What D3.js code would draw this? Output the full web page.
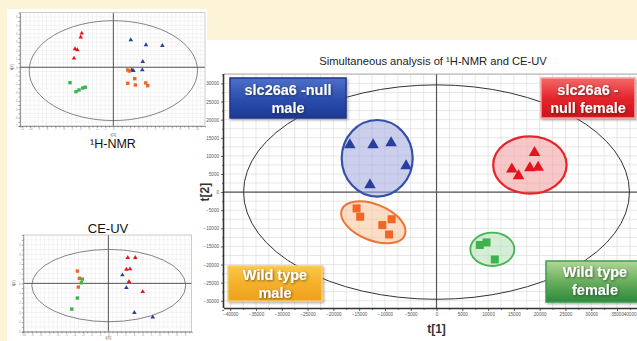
<!DOCTYPE html>
<html><head><meta charset="utf-8">
<script src="https://cdn.jsdelivr.net/npm/d3@7"></script>
<style>
html,body{margin:0;padding:0;background:#fdf3d6;}
svg{display:block;font-family:"Liberation Sans",Arial,sans-serif;}
</style>
</head><body>
<svg id="c" width="637" height="341"></svg>
<script>
// ---- Combined 1H-NMR + CE-UV score plot (t[1], t[2]) ----
const mainXTicks = d3.range(-40000, 40001, 5000);
const mainYTicks = d3.range(-30000, 30001, 5000);
const koMale   = [[-16800,13000],[-12300,13000],[-8800,13600],[-5900,7200],[-12900,2000]];
const koFemale = [[19000,10900],[14600,6300],[15900,4500],[18100,6700],[19700,6800]];
const wtMale   = [[-15500,-4500],[-14800,-6800],[-8700,-7500],[-10500,-9100],[-9200,-11700]];
const wtFemale = [[8400,-14600],[9700,-13900],[11300,-18600]];
// Hotelling T2 ellipse: cx, cy, rx, ry
const mainT2 = [0, 0, 37400, 29600];
// group rings: cx, cy, rx, ry, tilt (deg)
const ringKoMale   = [-11500, 9330, 6880, 10570, 0];
const ringKoFemale = [18100, 7480, 7120, 7920, 0];
const ringWtMale   = [-12250, -8340, 6590, 4970, 22];
const ringWtFemale = [10820, -15790, 4270, 4610, 0];
const groupNames = [["slc26a6 -null","male"],["slc26a6 -","null female"],["Wild type","male"],["Wild type","female"]];

// ---- 1H-NMR score plot ----
const nmrKoMale   = [[2.09,3.25],[3.92,2.66],[5.88,2.57],[3.53,0.67],[2.21,-0.32],[2.40,-0.41],[3.48,-0.32]];
const nmrKoFemale = [[-3.79,4.05],[-3.91,3.58],[-4.60,2.18],[-4.32,2.06],[-4.72,1.07]];
const nmrWtMale   = [[1.73,-0.32],[1.92,-0.44],[2.57,-1.36],[1.73,-1.91],[2.64,-2.11],[3.89,-1.87],[4.13,-2.19]];
const nmrWtFemale = [[-5.20,-1.84],[-4.48,-2.91],[-4.12,-2.71],[-3.67,-2.47],[-3.36,-2.38]];
const nmrT2 = [0, -0.4, 10.1, 5.95];

// ---- CE-UV score plot ----
const ceKoMale   = [[1.65,0.86],[2.12,-0.46],[3.06,-3.04],[5.22,-3.49]];
const ceKoFemale = [[2.28,2.65],[3.17,2.65],[2.12,1.45],[2.55,1.48],[2.43,0.17],[4.04,-0.87]];
const ceWtMale   = [[-3.64,1.27],[-3.41,0.52],[-3.53,-0.38]];
const ceWtFemale = [[-3.06,0.44],[-3.17,0.06],[-3.64,-1.52],[-4.30,-2.66]];
const ceT2 = [0.05, -0.23, 9.05, 3.74];

const COL = {blue:"#2a3f9d", red:"#e3141e", orange:"#f26522", green:"#3cb44b"};

const svg = d3.select("#c");
const defs = svg.append("defs");

function vgrad(id, stops){
  const g = defs.append("linearGradient").attr("id", id).attr("x1",0).attr("y1",0).attr("x2",0).attr("y2",1);
  stops.forEach(([o,c]) => g.append("stop").attr("offset", o).attr("stop-color", c));
}
vgrad("gBlue",  [[0,"#4d70c8"],[0.5,"#2d50b0"],[1,"#1d3994"]]);
vgrad("gRed",   [[0,"#f26a6a"],[0.5,"#e4262c"],[1,"#d0121a"]]);
vgrad("gOrange",[[0,"#f9c846"],[0.5,"#f4b02c"],[1,"#eea01e"]]);
vgrad("gGreen", [[0,"#b2d696"],[0.5,"#6aae5e"],[1,"#2c8a3c"]]);

const sh = defs.append("filter").attr("id","txtShadow").attr("x","-20%").attr("y","-20%").attr("width","140%").attr("height","140%");
sh.append("feDropShadow").attr("dx",1).attr("dy",1).attr("stdDeviation",0.8).attr("flood-color","#222").attr("flood-opacity",0.6);
const bsh = defs.append("filter").attr("id","boxShadow").attr("x","-10%").attr("y","-10%").attr("width","130%").attr("height","140%");
bsh.append("feDropShadow").attr("dx",1.5).attr("dy",1.5).attr("stdDeviation",1).attr("flood-color","#555").attr("flood-opacity",0.45);

// white panels
svg.append("rect").attr("x",7).attr("y",9).attr("width",200).attr("height",332).attr("fill","#fff");
svg.append("rect").attr("x",205).attr("y",40).attr("width",432).attr("height",301).attr("fill","#fff");

// ================= main plot =================
const x = d3.scaleLinear().domain([-41200, 41000]).range([224, 648]);
const y = d3.scaleLinear().domain([-32000, 32600]).range([308, 74]);
const [px0, px1] = [224, 637], [py0, py1] = [74, 308];

defs.append("clipPath").attr("id","mainClip").append("rect")
  .attr("x",px0).attr("y",py0).attr("width",px1-px0).attr("height",py1-py0);

const plot = svg.append("g").attr("clip-path","url(#mainClip)");
// grid
plot.append("g").selectAll("line").data(d3.range(-40000, 42500, 2500)).join("line")
  .attr("x1", d => x(d)).attr("x2", d => x(d)).attr("y1", py0).attr("y2", py1)
  .attr("stroke","#dcdcdc").attr("stroke-width",0.7);
plot.append("g").selectAll("line").data(d3.range(-32500, 32600, 2500)).join("line")
  .attr("y1", d => y(d)).attr("y2", d => y(d)).attr("x1", px0).attr("x2", px1)
  .attr("stroke","#dcdcdc").attr("stroke-width",0.7);
// frame top
svg.append("line").attr("x1",px0).attr("x2",px1).attr("y1",py0).attr("y2",py0).attr("stroke","#999").attr("stroke-width",0.8);

// crosshair
plot.append("line").attr("x1", x(0)).attr("x2", x(0)).attr("y1", py0).attr("y2", py1).attr("stroke","#555").attr("stroke-width",1.2);
plot.append("line").attr("y1", y(0)).attr("y2", y(0)).attr("x1", px0).attr("x2", px1).attr("stroke","#555").attr("stroke-width",1.2);

// T2 ellipse
plot.append("ellipse").attr("cx", x(mainT2[0])).attr("cy", y(mainT2[1]))
  .attr("rx", x(mainT2[2]) - x(0)).attr("ry", y(0) - y(mainT2[3]))
  .attr("fill","none").attr("stroke","#333").attr("stroke-width",1);

// group rings
function ring(r, fill, stroke, sw){
  const cx = x(r[0]), cy = y(r[1]);
  plot.append("ellipse").attr("cx", cx).attr("cy", cy)
    .attr("rx", x(r[2]) - x(0)).attr("ry", y(0) - y(r[3]))
    .attr("transform", `rotate(${r[4]},${cx},${cy})`)
    .attr("fill", fill).attr("fill-opacity", 0.55)
    .attr("stroke", stroke).attr("stroke-width", sw);
}
ring(ringKoMale, "#a3a6de", "#3451a8", 2.2);
ring(ringKoFemale, "#f29a9a", "#e8242a", 2.2);
ring(ringWtMale, "#f9c196", "#ec7434", 2);
ring(ringWtFemale, "#b4dfb4", "#45b554", 1.8);

// marks
const tri = d3.symbol().type(d3.symbolTriangle);
function triangles(g, data, sx, sy, size, color){
  g.append("g").selectAll("path").data(data).join("path")
    .attr("d", tri.size(size)())
    .attr("transform", d => `translate(${sx(d[0])},${sy(d[1])})`)
    .attr("fill", color);
}
function squares(g, data, sx, sy, s, color){
  g.append("g").selectAll("rect").data(data).join("rect")
    .attr("x", d => sx(d[0]) - s/2).attr("y", d => sy(d[1]) - s/2)
    .attr("width", s).attr("height", s).attr("fill", color);
}
triangles(plot, koMale, x, y, 58, COL.blue);
triangles(plot, koFemale, x, y, 58, COL.red);
squares(plot, wtMale, x, y, 8, COL.orange);
squares(plot, wtFemale, x, y, 8, COL.green);

// axes
function styleAxis(g, fs){
  g.select(".domain").attr("stroke","#333").attr("stroke-width",1.6);
  g.selectAll(".tick line").attr("stroke","#333").attr("stroke-width",0.8);
  g.selectAll(".tick text").attr("font-size", fs).attr("fill","#555").attr("font-family","Liberation Sans, Arial, sans-serif");
}
const fmt = d3.format("d");
const gx = svg.append("g").attr("transform",`translate(0,${py1})`)
  .call(d3.axisBottom(x).tickValues(mainXTicks).tickSize(3).tickPadding(2).tickFormat(fmt));
styleAxis(gx, 4.6);
gx.select(".domain").attr("d", `M${px0},0.5H${px1}`);
// last label sits past the window edge: pull it back inside, right-aligned
gx.selectAll(".tick text").filter(d => x(d) > px1 - 8)
  .attr("text-anchor","end").attr("x", d => (px1 - 1) - x(d));
const gxm = svg.append("g").attr("transform",`translate(0,${py1})`)
  .call(d3.axisBottom(x).tickValues(d3.range(-37500, 40000, 5000)).tickSize(2).tickFormat(""));
gxm.select(".domain").remove(); gxm.selectAll("line").attr("stroke","#333").attr("stroke-width",0.7);

const gy = svg.append("g").attr("transform",`translate(${px0},0)`)
  .call(d3.axisLeft(y).tickValues(mainYTicks).tickSize(3).tickPadding(2).tickFormat(fmt));
styleAxis(gy, 4.6);
gy.select(".domain").attr("d", `M-0.5,${py0}V${py1}`);
const gym = svg.append("g").attr("transform",`translate(${px0},0)`)
  .call(d3.axisLeft(y).tickValues(d3.range(-32500, 32600, 5000)).tickSize(2).tickFormat(""));
gym.select(".domain").remove(); gym.selectAll("line").attr("stroke","#333").attr("stroke-width",0.7);

// titles
const title = svg.append("text").attr("x", 433).attr("y", 65).attr("text-anchor","middle")
  .attr("font-size", 11.2).attr("fill","#222");
title.append("tspan").text("Simultaneous analysis of ");
title.append("tspan").text("\u00b9H-NMR and CE-UV");
svg.append("text").attr("x", x(0)).attr("y", 333).attr("text-anchor","middle")
  .attr("font-size", 12).attr("font-weight","bold").attr("fill","#333").text("t[1]");
svg.append("text").attr("transform", `translate(209,${y(0)}) rotate(-90)`).attr("text-anchor","middle")
  .attr("font-size", 12).attr("font-weight","bold").attr("fill","#333").text("t[2]");

// group label boxes
function labelBox(bx, by, bw, bh, grad, stroke, lines, ty){
  svg.append("rect").attr("x",bx).attr("y",by).attr("width",bw).attr("height",bh)
    .attr("fill",`url(#${grad})`).attr("stroke",stroke).attr("stroke-width",1.5)
    .attr("filter","url(#boxShadow)");
  const t = svg.append("text").attr("text-anchor","middle").attr("font-size",14.5).attr("font-weight","bold")
    .attr("fill","#fff").attr("filter","url(#txtShadow)");
  lines.forEach((s, i) => t.append("tspan").attr("x", bx + bw/2).attr("y", ty + i*17.5).text(s));
}
labelBox(230, 78, 116, 40, "gBlue", "#1e3688", groupNames[0], 95);
labelBox(541, 78, 94, 40, "gRed", "#f3a3a3", groupNames[1], 95);
labelBox(228, 266, 94, 35, "gOrange", "#f7d06a", groupNames[2], 280);
labelBox(546, 261, 98, 41, "gGreen", "#3e9f4c", groupNames[3], 277);

// ================= small score plots =================
function mini(o){
  const sx = d3.scaleLinear().domain(o.xd).range([o.x0, o.x1]);
  const sy = d3.scaleLinear().domain(o.yd).range([o.y1, o.y0]);
  const id = "clip" + o.name;
  defs.append("clipPath").attr("id", id).append("rect")
    .attr("x", o.x0).attr("y", o.y0).attr("width", o.x1 - o.x0).attr("height", o.y1 - o.y0);
  const g = svg.append("g");
  const p = g.append("g").attr("clip-path", `url(#${id})`);
  p.append("g").selectAll("line").data(d3.range(Math.ceil(o.xd[0]*2)/2, o.xd[1], 0.5)).join("line")
    .attr("x1", d => sx(d)).attr("x2", d => sx(d)).attr("y1", o.y0).attr("y2", o.y1)
    .attr("stroke","#e2e2e2").attr("stroke-width",0.4);
  p.append("g").selectAll("line").data(d3.range(Math.ceil(o.yd[0]*2)/2, o.yd[1], 0.5)).join("line")
    .attr("y1", d => sy(d)).attr("y2", d => sy(d)).attr("x1", o.x0).attr("x2", o.x1)
    .attr("stroke","#e2e2e2").attr("stroke-width",0.4);
  g.append("rect").attr("x", o.x0).attr("y", o.y0).attr("width", o.x1 - o.x0).attr("height", o.y1 - o.y0)
    .attr("fill","none").attr("stroke","#aaa").attr("stroke-width",0.6);
  p.append("line").attr("x1", sx(0)).attr("x2", sx(0)).attr("y1", o.y0).attr("y2", o.y1).attr("stroke","#444").attr("stroke-width",0.9);
  p.append("line").attr("y1", sy(0)).attr("y2", sy(0)).attr("x1", o.x0).attr("x2", o.x1 + 2).attr("stroke","#444").attr("stroke-width",0.9);
  p.append("ellipse").attr("cx", sx(o.t2[0])).attr("cy", sy(o.t2[1]))
    .attr("rx", sx(o.t2[2]) - sx(0)).attr("ry", sy(0) - sy(o.t2[3]))
    .attr("fill","none").attr("stroke","#666").attr("stroke-width",0.8);
  triangles(p, o.koFemale, sx, sy, 9, COL.red);
  triangles(p, o.koMale, sx, sy, 9, COL.blue);
  squares(p, o.wtMale, sx, sy, 3.4, COL.orange);
  squares(p, o.wtFemale, sx, sy, 3.4, COL.green);
  // tiny axes
  const ax = g.append("g").attr("transform", `translate(0,${o.y1})`)
    .call(d3.axisBottom(sx).tickValues(d3.range(Math.ceil(o.xd[0]), o.xd[1], 0.5)).tickSize(1.5).tickPadding(1)
      .tickFormat(d => Number.isInteger(d) ? d : ""));
  const ay = g.append("g").attr("transform", `translate(${o.x0},0)`)
    .call(d3.axisLeft(sy).tickValues(d3.range(Math.ceil(o.yd[0]), o.yd[1], 0.5)).tickSize(1.5).tickPadding(1)
      .tickFormat(d => Number.isInteger(d) ? d : ""));
  [ax, ay].forEach(a => {
    a.select(".domain").attr("stroke","#777").attr("stroke-width",0.7);
    a.selectAll(".tick line").attr("stroke","#666").attr("stroke-width",0.6);
    a.selectAll(".tick text").attr("font-size",2.6).attr("fill","#888");
  });
  g.append("text").attr("x", sx(0)).attr("y", o.xlY).attr("text-anchor","middle").attr("font-size",4.2).attr("fill","#555").text("t[1]");
  g.append("text").attr("transform", `translate(${o.ylX},${sy(0)}) rotate(-90)`).attr("text-anchor","middle")
    .attr("font-size",4.2).attr("fill","#555").text("t[2]");
  return {sx, sy};
}

mini({name:"nmr", x0:20, x1:205, y0:12.7, y1:126, xd:[-11.2, 11], yd:[-7, 6.5], t2:nmrT2,
  koMale:nmrKoMale, koFemale:nmrKoFemale, wtMale:nmrWtMale, wtFemale:nmrWtFemale, xlY:136, ylX:13});
svg.append("text").attr("x", 113).attr("y", 148).attr("text-anchor","middle").attr("font-size", 12.5).attr("fill","#111").text("\u00b9H-NMR");

mini({name:"ce", x0:23.3, x1:191.7, y0:235, y1:331.7, xd:[-10, 9.8], yd:[-5, 5], t2:ceT2,
  koMale:ceKoMale, koFemale:ceKoFemale, wtMale:ceWtMale, wtFemale:ceWtFemale, xlY:339, ylX:15});
svg.append("text").attr("x", 108).attr("y", 233).attr("text-anchor","middle").attr("font-size", 13).attr("fill","#111").text("CE-UV");
</script>
</body></html>
